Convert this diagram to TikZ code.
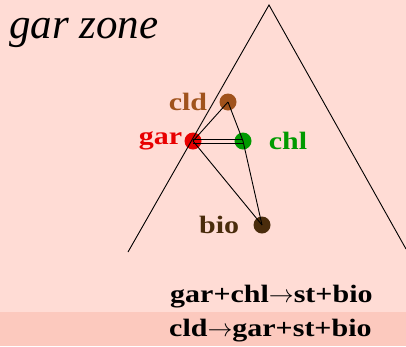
\documentclass[tikz,border=0pt]{standalone}
\usepackage{fontspec}
\setmainfont{Liberation Serif}
\newfontfamily\widefont[FakeStretch=1.2]{Liberation Serif}
\usetikzlibrary{positioning, calc}
\definecolor{bgpink}{HTML}{FFDCD5}
\definecolor{bandpink}{HTML}{FCC9BE}
\definecolor{cldbrown}{HTML}{A0521C}
\definecolor{garred}{HTML}{E80000}
\definecolor{chlgreen}{HTML}{009A00}
\definecolor{biobrown}{HTML}{4A2C0C}

\begin{document}
\begin{tikzpicture}[
        x=1pt, y=-1pt,
        phase/.style={circle, inner sep=0pt, minimum size=17pt},
        lbl/.style={inner sep=0pt, font=\widefont\fontsize{25}{27}\selectfont\bfseries},
        rxn/.style={inner sep=0pt, font=\widefont\fontsize{25}{27}\selectfont\bfseries},
        tie/.style={line width=0.9pt}
    ]
    \useasboundingbox (0,0) rectangle (406,346);

    % --- BACKGROUND ---
    \fill [bgpink] (0,0) rectangle (406,346);
    \fill [bandpink] (0,312) rectangle (406,346);

    % --- TITLE ---
    \node (title) [inner sep=0pt, anchor=base west, font=\fontsize{43}{45}\selectfont\itshape] at (9,38) {gar zone};

    % --- PHASES ---
    \node (cld) [phase, fill=cldbrown] at (228,102) {};
    \node (gar) [phase, fill=garred] at (193,141) {};
    \node (chl) [phase, fill=chlgreen] at (243,141) {};
    \node (bio) [phase, fill=biobrown] at (262,225) {};

    \node [lbl, text=cldbrown, left=12pt of cld] {cld};
    \node [lbl, text=garred, left=2pt of gar] {gar};
    \node [lbl, text=chlgreen, right=17pt of chl] {chl};
    \node [lbl, text=biobrown, left=14pt of bio] {bio};

    % --- ZONE TRIANGLE ---
    \coordinate (bl) at (128,252);
    \coordinate (top) at (269,5);
    \coordinate (br) at (406,249);
    \draw [tie] (bl) -- (top) -- (br);

    % --- TIE LINES ---
    \draw [tie] (cld.center) -- (gar.center);
    \draw [tie] (cld.center) -- (chl.center) -- (bio.center);
    \draw [tie] (gar.center) -- (bio.center);
    \draw [tie] ([yshift=-2pt]gar.center) -- ([yshift=-2pt]chl.center);
    \draw [tie] ([yshift=2pt]gar.center) -- ([yshift=2pt]chl.center);

    % --- REACTIONS ---
    \node (r1) [rxn, anchor=base west] at (170,302) {gar+chl$\rightarrow$st+bio};
    \node (r2) [rxn, anchor=base west] at (169,336) {cld$\rightarrow$gar+st+bio};

\end{tikzpicture}
\end{document}
